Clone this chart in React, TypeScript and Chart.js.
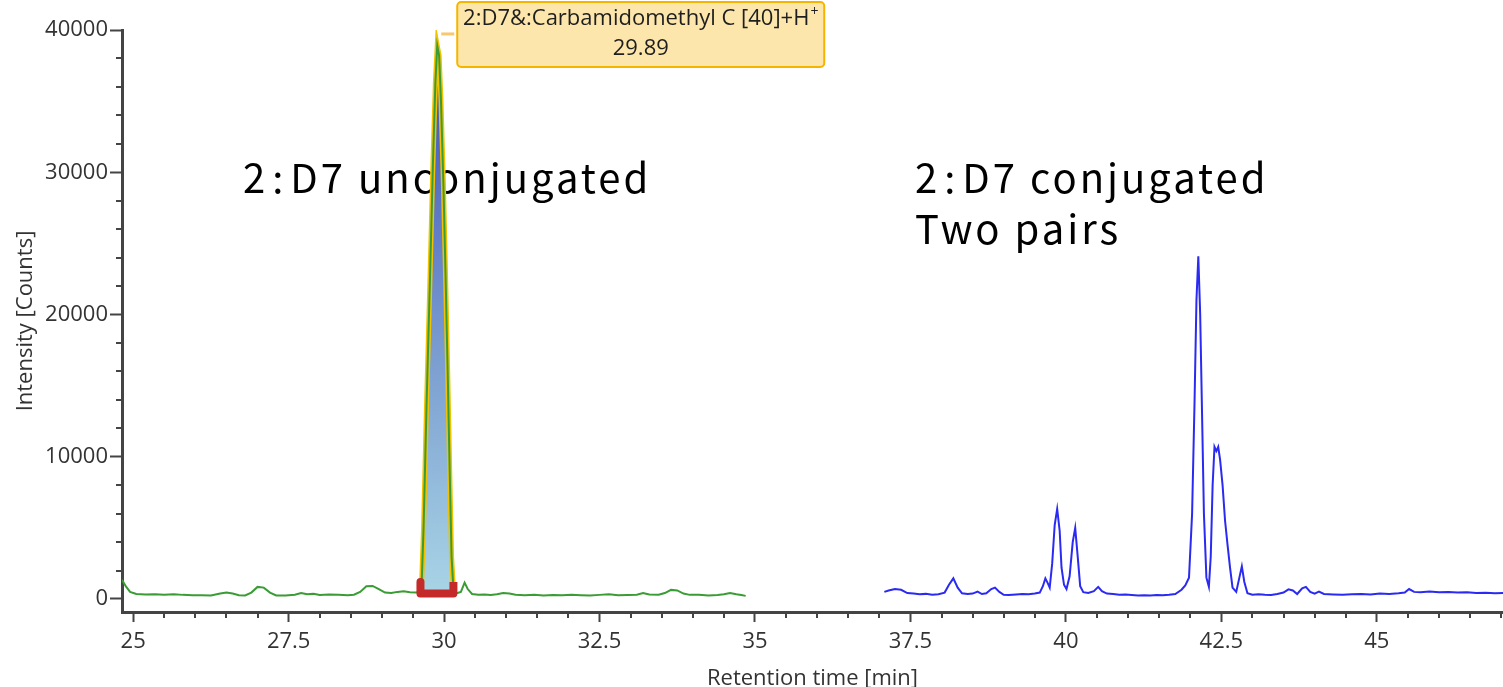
import React, { useEffect, useRef } from "react";
import { Chart, registerables } from "chart.js";

Chart.register(...registerables);

// ---- Data ----
const greenTimes = [
  24.82, 24.88, 24.95, 25.05, 25.2, 25.35, 25.5, 25.65, 25.8, 25.95, 26.1, 26.25, 26.4, 26.5, 26.6, 26.7,
  26.8, 26.9, 27.0, 27.1, 27.2, 27.3, 27.45, 27.6, 27.7, 27.8, 27.9, 28.0, 28.15, 28.3, 28.45, 28.55,
  28.65, 28.75, 28.85, 28.95, 29.05, 29.15, 29.25, 29.35, 29.45, 29.55,
  29.6, 29.64, 29.67, 29.72, 29.77, 29.82, 29.86, 29.89, 29.92, 29.95, 29.99, 30.03, 30.06, 30.09, 30.12, 30.15,
  30.2, 30.27, 30.33, 30.38, 30.45, 30.55, 30.65, 30.75, 30.85, 30.95, 31.05, 31.15, 31.3, 31.45, 31.6,
  31.75, 31.9, 32.05, 32.2, 32.35, 32.5, 32.65, 32.8, 32.95, 33.1, 33.2, 33.3, 33.45, 33.55, 33.65, 33.75,
  33.85, 33.95, 34.1, 34.25, 34.4, 34.5, 34.6, 34.7, 34.78, 34.85,
];
const greenCounts = [
  1350, 900, 500, 350, 320, 330, 300, 340, 290, 260, 270, 250, 380, 450, 380, 270,
  250, 450, 850, 800, 450, 250, 240, 300, 420, 330, 360, 280, 310, 290, 270, 300,
  500, 900, 920, 700, 450, 420, 500, 550, 480, 450,
  500, 1200, 5000, 14000, 22000, 30500, 36300, 38900, 38200, 35000, 29000, 21500, 15500, 9000, 3000, 700,
  400, 500, 1150, 700, 350, 300, 320, 280, 330, 420, 380, 300, 260, 300, 240,
  280, 260, 300, 270, 250, 290, 330, 270, 280, 300, 420, 310, 300, 420, 640, 600,
  380, 290, 300, 250, 280, 330, 420, 330, 280, 220,
];

const blueTimes = [
  37.08, 37.15, 37.25, 37.35, 37.45, 37.55, 37.65, 37.75, 37.85, 37.95, 38.05, 38.12, 38.19, 38.26, 38.33,
  38.42, 38.5, 38.58, 38.65, 38.72, 38.8, 38.86, 38.93, 39.0, 39.08, 39.2, 39.3, 39.4, 39.5, 39.58, 39.63,
  39.67, 39.71, 39.74, 39.78, 39.82, 39.86, 39.9, 39.93, 39.97, 40.01, 40.06, 40.11, 40.15, 40.19, 40.23,
  40.28, 40.36, 40.45, 40.52, 40.58, 40.66, 40.76, 40.86, 40.96, 41.06, 41.16, 41.26, 41.36, 41.46, 41.56,
  41.66, 41.76, 41.86, 41.92, 41.98, 42.03, 42.07, 42.1, 42.13, 42.16, 42.19, 42.22, 42.26, 42.3, 42.33,
  42.36, 42.39, 42.42, 42.45, 42.48, 42.52, 42.56, 42.6, 42.64, 42.68, 42.74, 42.79, 42.83, 42.87, 42.92,
  43.0, 43.1, 43.2, 43.3, 43.4, 43.5, 43.58, 43.65, 43.72, 43.8, 43.86, 43.93, 44.0, 44.07, 44.15, 44.3,
  44.45, 44.6, 44.75, 44.9, 45.05, 45.2, 45.35, 45.45, 45.52, 45.6, 45.7, 45.85, 46.0, 46.15, 46.3, 46.45,
  46.6, 46.75, 46.9, 47.03,
];
const blueCounts = [
  500, 600, 700, 650, 420, 380, 330, 360, 300, 330, 450, 1000, 1450, 800, 400,
  350, 380, 520, 350, 400, 700, 800, 500, 300, 280, 320, 350, 330, 380, 450, 900,
  1450, 1100, 800, 2500, 5200, 6330, 4800, 2200, 1000, 700, 1600, 4000, 5000, 3000, 900,
  480, 420, 550, 850, 550, 380, 350, 300, 320, 280, 240, 260, 250, 280, 260,
  300, 350, 650, 950, 1500, 6000, 14000, 21000, 24100, 20000, 13000, 6000, 1500, 850, 3000,
  8000, 10700, 10400, 10700, 9800, 8000, 5500, 3800, 2200, 800, 500, 1500, 2300, 1200, 400,
  300, 330, 300, 280, 350, 450, 680, 600, 350, 750, 850, 500, 380, 520, 350, 320,
  300, 330, 350, 320, 380, 360, 400, 450, 700, 500, 480, 520, 470, 500, 450, 480,
  420, 440, 400, 420,
];

// integration bracket of the selected peak
const integrationTimes = [29.62, 29.62, 30.15, 30.15];
const integrationCounts = [1200, 390, 390, 1200];
const integrationBaseline = 390;

const xMajorTicks = [25, 27.5, 30, 32.5, 35, 37.5, 40, 42.5, 45];
const xMinorTicks = [
  25.5, 26, 26.5, 27, 28, 28.5, 29, 29.5, 30.5, 31, 31.5, 32, 33, 33.5, 34, 34.5, 35.5, 36, 36.5, 37,
  38, 38.5, 39, 39.5, 40.5, 41, 41.5, 42, 43, 43.5, 44, 44.5, 45.5, 46, 46.5, 47,
];
const yMajorTicks = [0, 10000, 20000, 30000, 40000];
const yMinorTicks = [
  2000, 4000, 6000, 8000, 12000, 14000, 16000, 18000, 22000, 24000, 26000, 28000, 32000, 34000, 36000, 38000,
];

const apexTime = 29.89;
const apexCounts = 39300;
const peakLabelMain = "2:D7&:Carbamidomethyl C [40]+H";
const peakLabelSup = "+";
const peakLabelTime = "29.89";
const unconjugatedLabel = "2:D7 unconjugated";
const conjugatedLabels = ["2:D7 conjugated", "Two pairs"];

const FONT = "'Open Sans', 'DejaVu Sans', sans-serif";
const BIG_FONT = "'Noto Sans CJK JP', 'Noto Sans', sans-serif";

function drawBigLabel(c: CanvasRenderingContext2D, text: string, x: number, y: number) {
  const idx = text.indexOf(":");
  if (idx < 0) {
    c.fillText(text, x, y);
    return;
  }
  const gap = 4;
  const head = text.slice(0, idx);
  const tail = text.slice(idx + 1);
  c.fillText(head, x, y);
  let cx = x + c.measureText(head).width + gap;
  c.fillText(":", cx, y);
  cx += c.measureText(":").width + gap;
  c.fillText(tail, cx, y);
}

export default function App() {
  const ref = useRef<HTMLCanvasElement>(null);

  useEffect(() => {
    document.body.style.margin = "0";
    document.body.style.overflow = "hidden";
    const canvas = ref.current;
    if (!canvas) return;

    const toPoints = (xs: number[], ys: number[]) => xs.map((x, i) => ({ x, y: ys[i] }));
    const greenPts = toPoints(greenTimes, greenCounts);
    const bluePts = toPoints(blueTimes, blueCounts);
    const peakPts = greenPts.filter(
      (p) => p.x >= integrationTimes[0] - 0.03 && p.x <= integrationTimes[2] + 0.001
    );
    const bracketPts = toPoints(integrationTimes, integrationCounts);

    const overlay = {
      id: "overlay",
      beforeDatasetsDraw(chart: any) {
        const c = chart.ctx as CanvasRenderingContext2D;
        c.save();
        c.font = `40px ${BIG_FONT}`;
        (c as any).letterSpacing = "3px";
        c.fillStyle = "#000";
        c.textBaseline = "middle";
        c.textAlign = "left";
        drawBigLabel(c, unconjugatedLabel, 243, 178);
        drawBigLabel(c, conjugatedLabels[0], 915, 178);
        drawBigLabel(c, conjugatedLabels[1], 915, 229);
        c.restore();
      },
      afterDraw(chart: any) {
        const c = chart.ctx as CanvasRenderingContext2D;
        const xs = chart.scales.x;
        const ys = chart.scales.y;
        const area = chart.chartArea;
        c.save();
        // minor ticks
        c.strokeStyle = "#444";
        c.lineWidth = 2;
        c.beginPath();
        xMinorTicks.forEach((v) => {
          const px = Math.round(xs.getPixelForValue(v));
          if (px < area.left || px > area.right) return;
          c.moveTo(px, area.bottom);
          c.lineTo(px, area.bottom + 6);
        });
        yMinorTicks.forEach((v) => {
          const py = Math.round(ys.getPixelForValue(v));
          c.moveTo(area.left - 6, py);
          c.lineTo(area.left, py);
        });
        c.stroke();

        // peak annotation
        const ax = xs.getPixelForValue(apexTime);
        const ay = ys.getPixelForValue(apexCounts);
        c.strokeStyle = "#f8c870";
        c.lineWidth = 3;
        c.beginPath();
        c.moveTo(ax + 4, ay - 6);
        c.lineTo(ax + 17, ay - 6);
        c.stroke();

        const bx = ax + 20;
        const by = ay - 38;
        const bw = 367;
        const bh = 65;
        c.beginPath();
        (c as any).roundRect(bx, by, bw, bh, 4);
        c.fillStyle = "#fde6ab";
        c.fill();
        c.strokeStyle = "#f5b400";
        c.lineWidth = 2;
        c.stroke();

        c.fillStyle = "#1e1e1e";
        c.textBaseline = "middle";
        c.textAlign = "left";
        c.font = `22px ${FONT}`;
        const wMain = c.measureText(peakLabelMain).width;
        c.font = `14px ${FONT}`;
        const wSup = c.measureText(peakLabelSup).width;
        const total = wMain + wSup + 1;
        const cx = bx + bw / 2;
        const tx = cx - total / 2;
        c.font = `22px ${FONT}`;
        c.fillText(peakLabelMain, tx, by + 17);
        c.font = `14px ${FONT}`;
        c.fillText(peakLabelSup, tx + wMain + 1, by + 10);
        c.font = `22px ${FONT}`;
        c.textAlign = "center";
        c.fillText(peakLabelTime, cx, by + 47);
        c.restore();
      },
    };

    const chart = new Chart(canvas, {
      type: "line",
      data: {
        datasets: [
          {
            label: "integration",
            data: bracketPts,
            borderColor: "#c42a2a",
            borderWidth: 8,
            borderJoinStyle: "round",
            pointRadius: 0,
            fill: false,
            order: 0,
          },
          {
            label: "unconjugated",
            data: greenPts,
            borderColor: "#3a9c34",
            borderWidth: 2,
            pointRadius: 0,
            fill: false,
            order: 1,
          },
          {
            label: "conjugated",
            data: bluePts,
            borderColor: "#2a2af2",
            borderWidth: 2,
            pointRadius: 0,
            fill: false,
            order: 2,
          },
          {
            label: "selected peak",
            data: peakPts,
            borderColor: "#f2c200",
            borderWidth: 5,
            pointRadius: 0,
            fill: { value: integrationBaseline },
            backgroundColor: (ctx: any) => {
              const ch = ctx.chart;
              if (!ch.chartArea || !ch.scales.y) return "#a0c8e0";
              const y = ch.scales.y;
              const g = ch.ctx.createLinearGradient(
                0,
                y.getPixelForValue(apexCounts),
                0,
                y.getPixelForValue(integrationBaseline)
              );
              g.addColorStop(0, "#3a4cb8");
              g.addColorStop(0.5, "#7394cc");
              g.addColorStop(1, "#a8d4e6");
              return g;
            },
            order: 3,
          },
        ],
      },
      options: {
        animation: false,
        responsive: false,
        layout: { padding: { top: 30, right: 0, left: 0, bottom: 0 } },
        plugins: {
          legend: { display: false },
          tooltip: { enabled: false },
        },
        elements: { line: { tension: 0 } },
        scales: {
          x: {
            type: "linear",
            min: 24.82,
            max: 47.03,
            afterFit: (s: any) => {
              s.height = 75;
            },
            afterBuildTicks: (s: any) => {
              s.ticks = xMajorTicks.map((v) => ({ value: v }));
            },
            border: { display: true, color: "#444", width: 3 },
            grid: {
              display: true,
              drawOnChartArea: false,
              drawTicks: true,
              tickLength: 10,
              tickWidth: 2,
              tickColor: "#444",
            },
            ticks: {
              autoSkip: false,
              maxRotation: 0,
              padding: 7,
              color: "#333",
              font: { family: FONT, size: 22 },
              callback: (v: any) => String(v),
            },
            title: {
              display: true,
              text: "Retention time [min]",
              color: "#333",
              font: { family: FONT, size: 22 },
              padding: { top: 0, bottom: -5 },
            },
          },
          y: {
            type: "linear",
            min: -914,
            max: 40000,
            afterFit: (s: any) => {
              s.width = 122;
            },
            afterBuildTicks: (s: any) => {
              s.ticks = yMajorTicks.map((v) => ({ value: v }));
            },
            border: { display: true, color: "#444", width: 3 },
            grid: {
              display: true,
              drawOnChartArea: false,
              drawTicks: true,
              tickLength: 12,
              tickWidth: 2,
              tickColor: "#444",
            },
            ticks: {
              autoSkip: false,
              padding: 2,
              color: "#333",
              font: { family: FONT, size: 22 },
              callback: (v: any) => String(v),
            },
            title: {
              display: true,
              text: "Intensity [Counts]",
              color: "#333",
              font: { family: FONT, size: 22 },
              padding: { top: 13, bottom: 0 },
            },
          },
        },
      },
      plugins: [overlay],
    } as any);

    return () => chart.destroy();
  }, []);

  return (
    <canvas
      ref={ref}
      width={1503}
      height={687}
      style={{ display: "block", width: 1503, height: 687 }}
    />
  );
}
